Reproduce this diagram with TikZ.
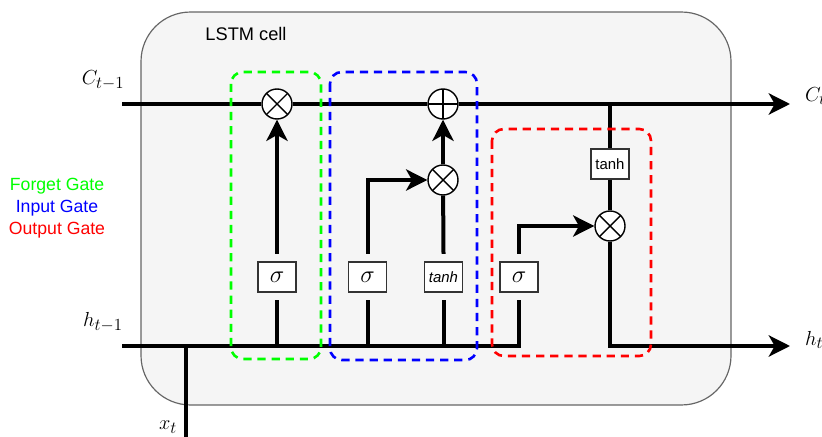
\documentclass[tikz,border=0pt]{standalone}
\usepackage{amsmath,amssymb}
\usepackage{fontspec}
\setsansfont{Liberation Sans}
\usepackage{tikz}
\usepackage{xcolor}
\usetikzlibrary{arrows.meta,calc,positioning}

\definecolor{cellfill}{HTML}{F5F5F5}
\definecolor{cellline}{HTML}{666666}
\definecolor{forgetc}{HTML}{00FF00}
\definecolor{inputc}{HTML}{0000FF}
\definecolor{outputc}{HTML}{FF0000}

\begin{document}
\begin{tikzpicture}[
    x=0.85pt, y=-0.85pt,
    wire/.style={line width=3.4pt},
    arr/.style={wire, -{Stealth[length=18pt, width=18pt, inset=5pt]}},
    act/.style={draw=black!80, fill=white, line width=1.2pt, minimum width=32.3pt, minimum height=25.5pt, inner sep=0pt},
    gap/.style={outer ysep=7pt},
    op/.style={circle, draw, fill=white, line width=1.2pt, minimum size=25.5pt, inner sep=0pt},
    mul/.style={op, path picture={\draw[line width=1.2pt]
        (path picture bounding box.north west) -- (path picture bounding box.south east)
        (path picture bounding box.north east) -- (path picture bounding box.south west);}},
    add/.style={op, path picture={\draw[line width=1.2pt]
        (path picture bounding box.north) -- (path picture bounding box.south)
        (path picture bounding box.west) -- (path picture bounding box.east);}},
    gate/.style={line width=2.2pt, rounded corners=10pt, dash pattern=on 7pt off 5pt},
    lbl/.style={font=\fontsize{19}{22}\selectfont},
    legend/.style={font=\sffamily\fontsize{15}{18}\selectfont}
  ]
  \useasboundingbox (0,0) rectangle (822,437);

  % cell
  \node[draw=cellline, fill=cellfill, line width=1pt, rounded corners=42pt,
        minimum width=501.5pt, minimum height=334pt] (cell) at (436,208.5) {};
  \node[font=\sffamily\fontsize{15.5}{18}\selectfont] (title) at (246,34) {LSTM cell};

  % legend
  \node[legend, text=forgetc] (lgf) at (57,186) {Forget Gate};
  \node[legend, text=inputc] (lgi) at (57,208) {Input Gate};
  \node[legend, text=outputc] (lgo) at (57,230) {Output Gate};

  % in/out ends
  \coordinate (cin) at (122,104);
  \coordinate (cout) at (790,104);
  \coordinate (hin) at (122,346);
  \coordinate (hout) at (790,346);
  \coordinate (xin) at (186,437);
  \node[lbl] (cinl) at (103,80) {$C_{t-1}$};
  \node[lbl, anchor=west] (coutl) at (801,96) {$C_t$};
  \node[lbl] (hinl) at (103,322) {$h_{t-1}$};
  \node[lbl, anchor=west] (houtl) at (801,340) {$h_t$};
  \node[lbl] (xinl) at (168,427) {$x_t$};

  % pointwise ops
  \node[mul] (fmul) at (277,104) {};
  \node[add] (iadd) at (443,104) {};
  \node[mul] (imul) at (443,180) {};
  \node[mul] (omul) at (610,226) {};

  % layers
  \node[act, gap, font=\fontsize{20}{22}\selectfont] (fsig) at (277,277) {$\sigma$};
  \node[act, gap, font=\fontsize{20}{22}\selectfont] (isig) at (367.5,277) {$\sigma$};
  \node[act, gap, font=\sffamily\itshape\fontsize{12.7}{14}\selectfont] (itanh) at (443.5,277) {tanh};
  \node[act, gap, font=\fontsize{20}{22}\selectfont] (osig) at (519,277) {$\sigma$};
  \node[act, font=\sffamily\fontsize{12.7}{14}\selectfont] (otanh) at (610,164) {tanh};

  % cell state
  \draw[wire] (cin) -- (fmul);
  \draw[wire] (fmul) -- (iadd);
  \draw[arr] (iadd) -- (cout);
  \draw[wire] (otanh |- cin) -- (otanh.north);

  % hidden state and input
  \draw[wire] (xin) -- (xin |- hin);
  \draw[wire] (hin) -| (osig.south);
  \draw[wire] (fsig.south) -- (fsig |- hin);
  \draw[wire] (isig.south) -- (isig |- hin);
  \draw[wire] (itanh.south) -- (itanh |- hin);

  % gates
  \draw[arr] (fsig.north) -- (fmul);
  \draw[arr] (isig.north) |- (imul);
  \draw[wire] (itanh.north) -- (imul);
  \draw[arr] (imul) -- (iadd);
  \draw[arr] (osig.north) |- (omul);
  \draw[wire] (otanh.south) -- (omul);
  \draw[arr] (omul) |- (hout);

  % gate frames
  \draw[gate, forgetc] (231,72) rectangle (321,359);
  \draw[gate, inputc] (330,72) rectangle (477,360);
  \draw[gate, outputc] (492,129) rectangle (651,356);
\end{tikzpicture}
\end{document}
